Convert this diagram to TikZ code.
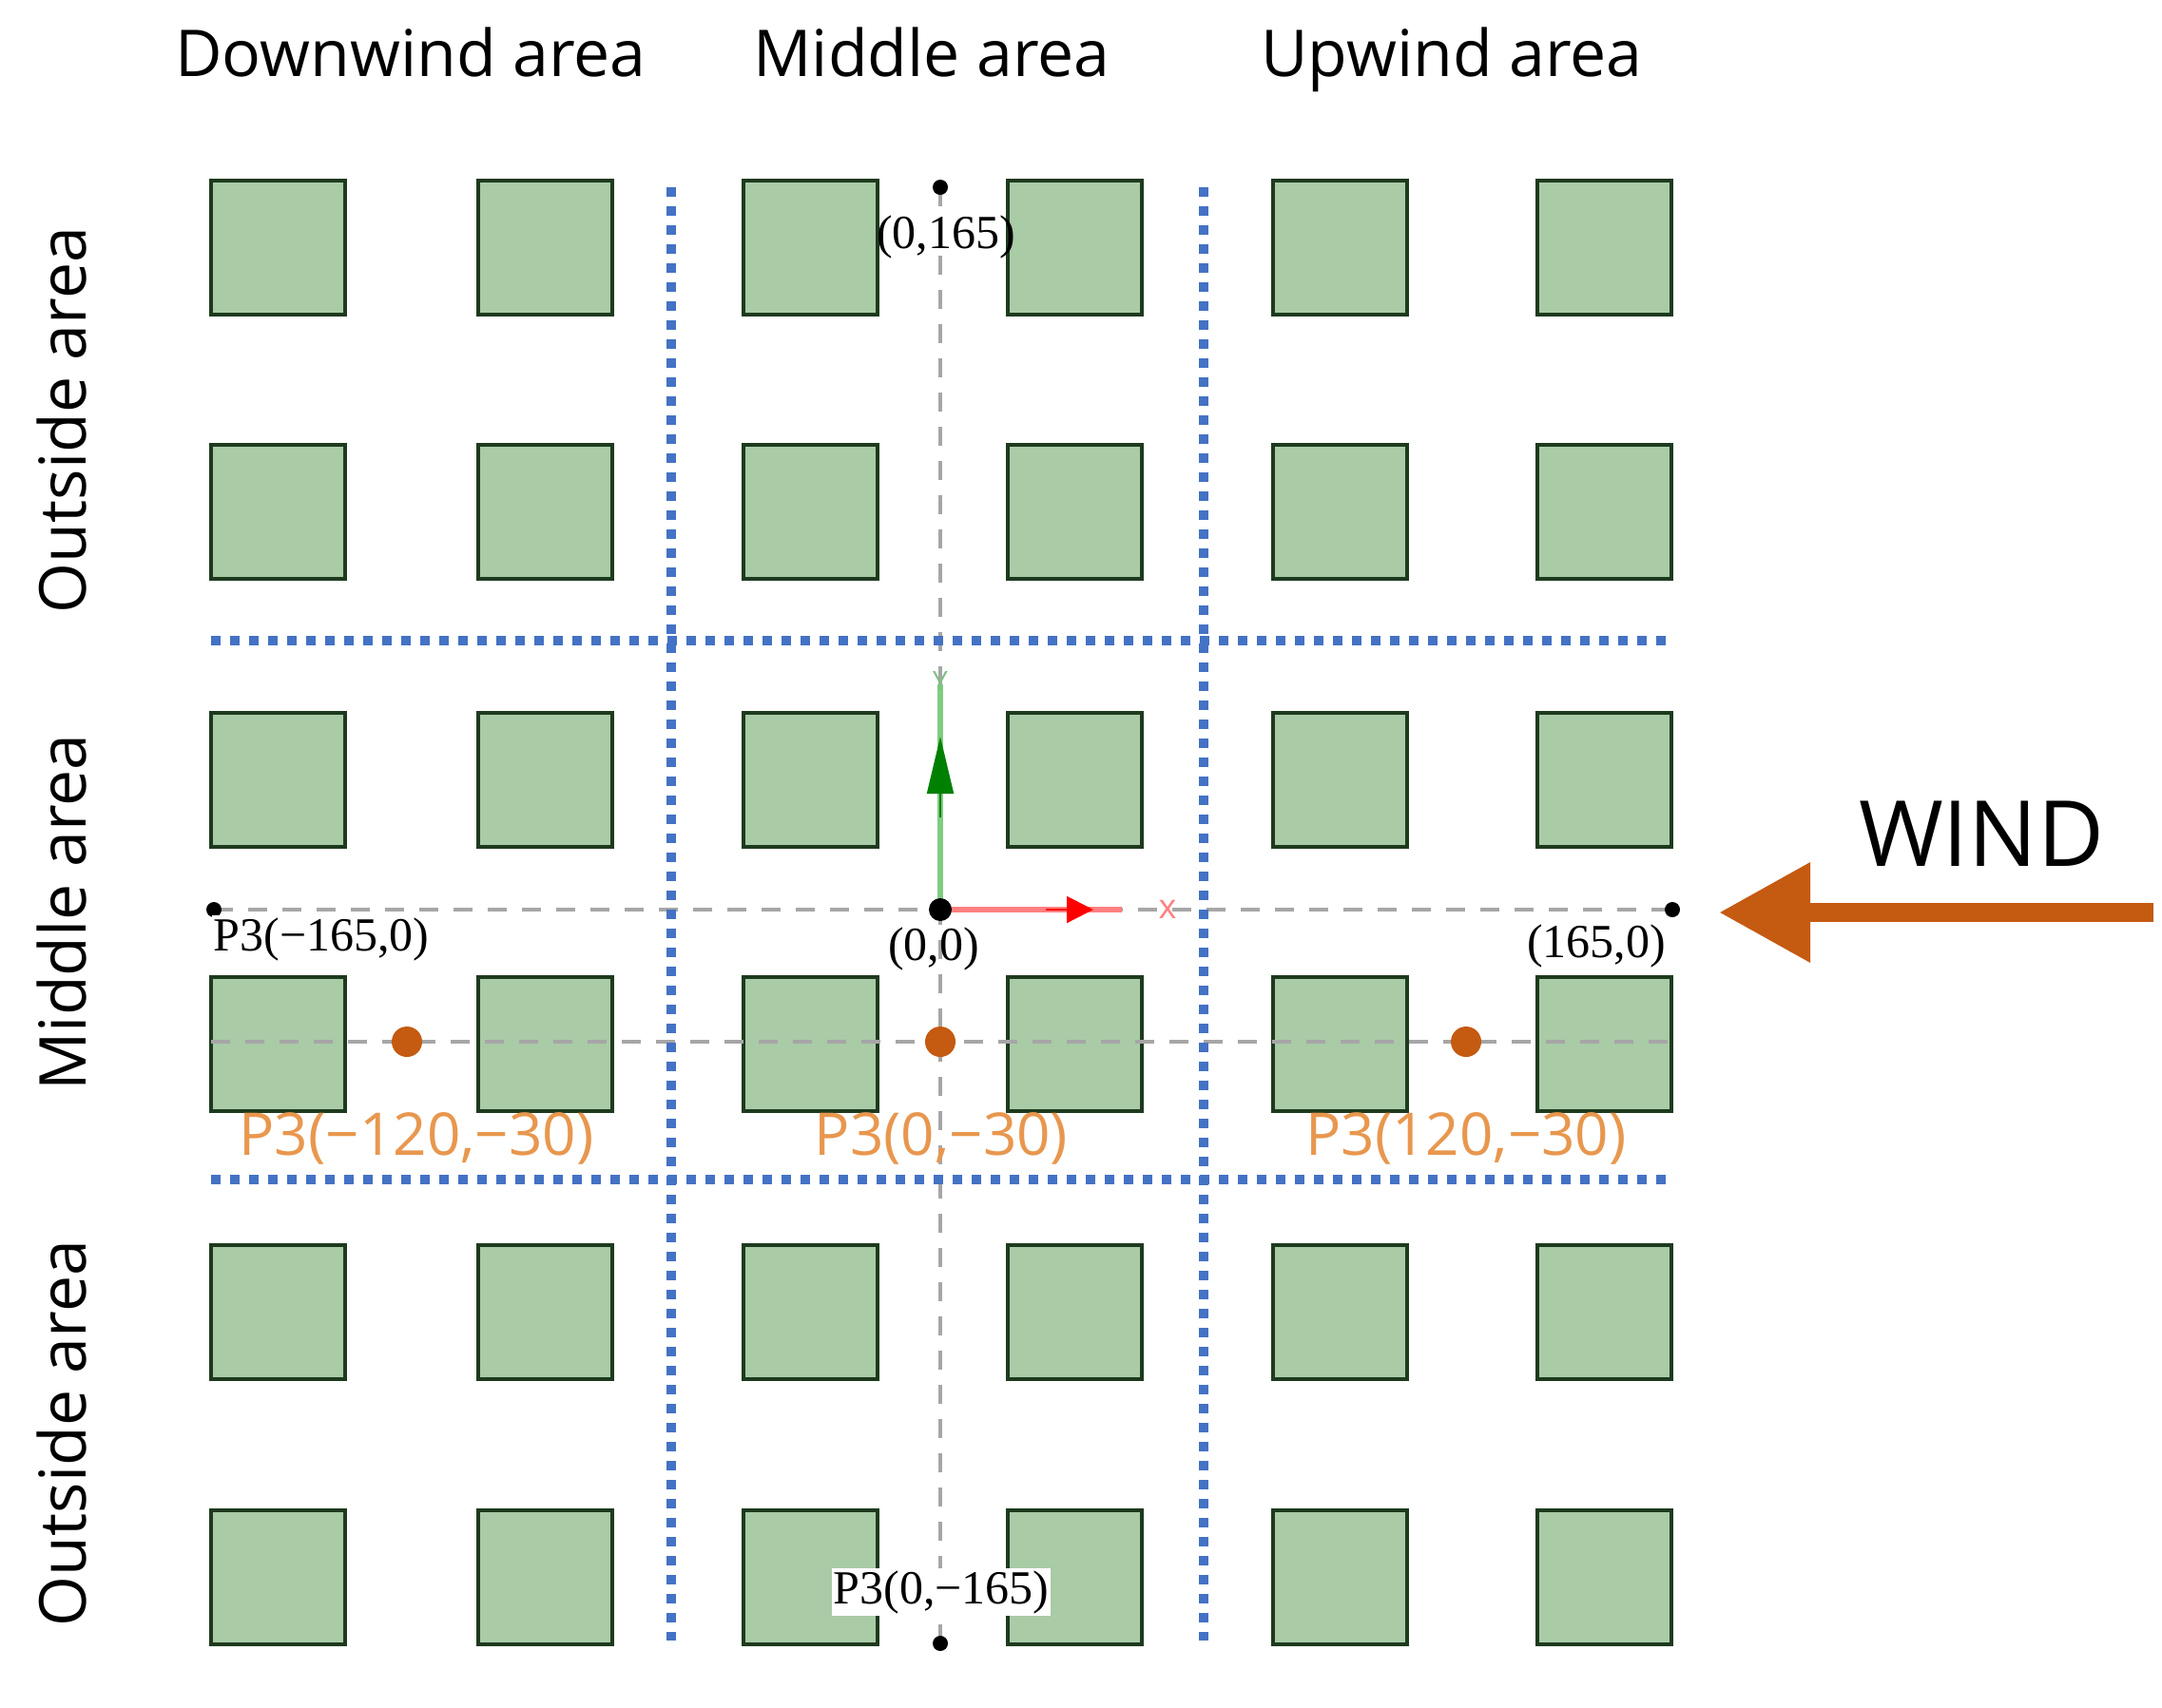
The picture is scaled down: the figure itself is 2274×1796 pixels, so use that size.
\documentclass[tikz,border=0pt]{standalone}
\usepackage{fontspec}
\setmainfont{Open Sans}
\newfontfamily\serifc{Liberation Serif}
\usetikzlibrary{arrows.meta}
\definecolor{bldg}{HTML}{A9CBA6}
\definecolor{bedge}{HTML}{1E3A1E}
\definecolor{dotb}{HTML}{4472C4}
\definecolor{org}{HTML}{C55A11}
\definecolor{orgl}{HTML}{E8974E}
\tikzset{
 x=0.5pt,y=-0.5pt,
 bld/.style={draw=bedge,fill=bldg,line width=2pt},
 blued/.style={dotb,line width=5pt,dash pattern=on 5pt off 5pt},
 grayd/.style={gray!70,line width=2pt,dash pattern=on 10pt off 8pt},
 pt/.style={circle,fill=black,inner sep=0pt,minimum size=8pt},
 opt/.style={circle,fill=org,inner sep=0pt,minimum size=16pt},
 clab/.style={font=\serifc\fontsize{25}{27}\selectfont,inner sep=1pt},
 olab/.style={font=\fontsize{31}{34}\selectfont,text=orgl},
 title/.style={font=\fontsize{34}{38}\selectfont},
}
\begin{document}
\begin{tikzpicture}
\useasboundingbox (0,0) rectangle (2274,1796);
\fill[white] (0,0) rectangle (2274,1796);
\foreach \x in {222,503,782,1060,1339,1617}
 \foreach \y in {190,468,750,1028,1310,1589}
  \draw[bld] (\x,\y) rectangle ++(141,141);
% grey dashed axes
\coordinate (top) at (989,197); \coordinate (bot) at (989,1729);
\coordinate (lft) at (225,957); \coordinate (rgt) at (1759,957);
\coordinate (o) at (989,957);
\draw[grayd] (top) -- (bot);
\draw[grayd] (lft) -- (rgt);
\coordinate (ol) at (222,1096); \coordinate (orr) at (1758,1096);
\draw[grayd] (ol) -- (orr);
% blue dotted region lines
\coordinate (v1a) at (706,197); \coordinate (v1b) at (706,1726);
\coordinate (v2a) at (1266,197); \coordinate (v2b) at (1266,1726);
\coordinate (h1a) at (222,674); \coordinate (h1b) at (1758,674);
\coordinate (h2a) at (222,1241); \coordinate (h2b) at (1758,1241);
\draw[blued] (v1a) -- (v1b); \draw[blued] (v2a) -- (v2b);
\draw[blued] (h1a) -- (h1b); \draw[blued] (h2a) -- (h2b);
% local axes
\coordinate (yend) at (989,720); \coordinate (xend) at (1180,957);
\draw[green!60!black!50,line width=3pt] (o) -- (yend);
\draw[green!50!black,line width=1pt,-{Triangle[length=30pt,width=14pt]}] (989,860) -- (989,775);
\node[text=green!50!black!50,font=\fontsize{14}{14}\selectfont] at (989,716) {Y};
\draw[red!50,line width=3pt] (o) -- (xend);
\draw[red,line width=1pt,-{Triangle[length=14pt,width=14pt]}] (1100,957) -- (1150,957);
\node[text=red!50,font=\fontsize{18}{18}\selectfont] at (1228,957) {x};
% points
\node[pt] (ptop) at (top) {}; \node[pt] (pbot) at (bot) {};
\node[pt] (plft) at (lft) {}; \node[pt] (prgt) at (rgt) {};
\node[pt,minimum size=12pt] (po) at (o) {};
\node[opt] (d1) at (428,1096) {}; \node[opt] (d2) at (989,1096) {}; \node[opt] (d3) at (1542,1096) {};
% labels
\node[clab] (l165) at (995,249) {(0,165)};
\node[clab] (l00) at (982,998) {(0,0)};
\node[clab] (l1650) at (1679,995) {(165,0)};
\node[clab,fill=white] (lm165) at (338,988) {P3(−165,0)};
\node[clab,fill=white] (lb165) at (990,1675) {P3(0,−165)};
\node[olab] at (438,1198) {P3(−120,−30)};
\node[olab] at (990,1198) {P3(0,−30)};
\node[olab] at (1542,1198) {P3(120,−30)};
\node[title,anchor=base] at (432,80) {Downwind area};
\node[title,anchor=base] at (980,80) {Middle area};
\node[title,anchor=base] at (1527,80) {Upwind area};
\node[title,rotate=90] at (65,442) {Outside area};
\node[title,rotate=90] at (65,960) {Middle area};
\node[title,rotate=90] at (65,1508) {Outside area};
% wind
\node[font=\fontsize{48}{52}\selectfont] (wind) at (2084,877) {WIND};
\coordinate (ws) at (2265,960); \coordinate (we) at (1808,960);
\draw[org,line width=10pt,-{Triangle[length=48pt,width=50pt]}] (ws) -- (we);
\end{tikzpicture}
\end{document}
